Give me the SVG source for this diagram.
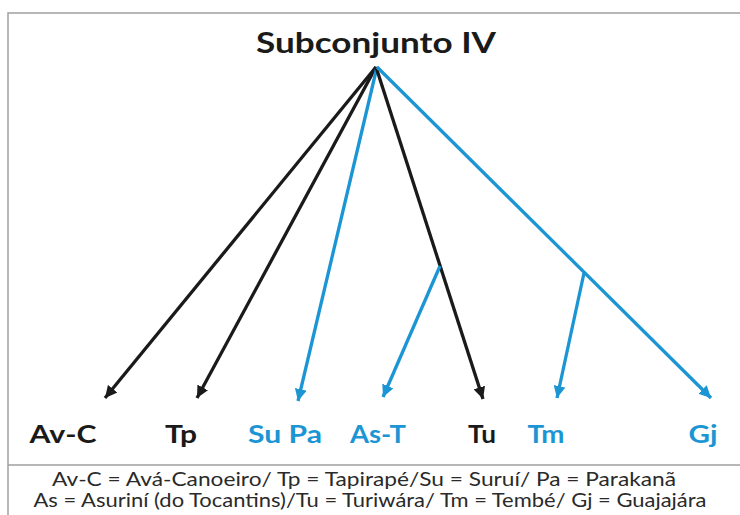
<svg xmlns="http://www.w3.org/2000/svg" width="740" height="515" viewBox="0 0 740 515">
<style>
.bk{stroke:#1a1a1a;stroke-width:3.3;fill:none}
.bl{stroke:#1b95d3;stroke-width:3.3;fill:none}
.lab{font-family:"Lato","Open Sans",sans-serif;font-weight:bold;font-size:25px;text-anchor:middle}
.kb{fill:#1a1a1a}
.kl{fill:#1b95d3}
.leg{font-family:"Lato","Open Sans",sans-serif;font-size:19px;fill:#2a2a2a;text-anchor:middle}
.frame{stroke:#a0a0a0;stroke-width:1.5;fill:none}
</style>
<defs>
<marker id="ab" markerUnits="userSpaceOnUse" markerWidth="14" markerHeight="12" refX="12" refY="6" orient="auto" viewBox="0 0 14 12"><path d="M0,0 L12,6 L0,12 z" fill="#1a1a1a"/></marker>
<marker id="al" markerUnits="userSpaceOnUse" markerWidth="14" markerHeight="12" refX="12" refY="6" orient="auto" viewBox="0 0 14 12"><path d="M0,0 L12,6 L0,12 z" fill="#1b95d3"/></marker>
</defs>
<rect width="740" height="515" fill="#fff"/>
<path class="frame" d="M740,13 H8 V515 M8,465 H740"/>
<g id="root"><text x="376" y="53" class="lab kb" style="font-size:28px" textLength="240" lengthAdjust="spacingAndGlyphs">Subconjunto IV</text></g>
<g id="connectors">
<line class="bk" x1="376" y1="67" x2="105" y2="398" marker-end="url(#ab)"/>
<line class="bk" x1="376" y1="67" x2="197" y2="398" marker-end="url(#ab)"/>
<line class="bl" x1="377" y1="67" x2="298" y2="401" marker-end="url(#al)"/>
<line class="bk" x1="376" y1="67" x2="483" y2="399" marker-end="url(#ab)"/>
<line class="bl" x1="440" y1="266" x2="383" y2="397" marker-end="url(#al)"/>
<line class="bl" x1="377" y1="67" x2="711" y2="398" marker-end="url(#al)"/>
<line class="bl" x1="584" y1="273" x2="557" y2="398" marker-end="url(#al)"/>
</g>
<g id="n-avc"><text x="63" y="443" class="lab kb" textLength="67" lengthAdjust="spacingAndGlyphs">Av-C</text></g>
<g id="n-tp"><text x="181" y="443" class="lab kb" textLength="32" lengthAdjust="spacingAndGlyphs">Tp</text></g>
<g id="n-supa"><text x="285" y="443" class="lab kl" textLength="74" lengthAdjust="spacingAndGlyphs">Su Pa</text></g>
<g id="n-ast"><text x="378" y="443" class="lab kl" textLength="56" lengthAdjust="spacingAndGlyphs">As-T</text></g>
<g id="n-tu"><text x="482" y="443" class="lab kb" textLength="28" lengthAdjust="spacingAndGlyphs">Tu</text></g>
<g id="n-tm"><text x="546" y="443" class="lab kl" textLength="37" lengthAdjust="spacingAndGlyphs">Tm</text></g>
<g id="n-gj"><text x="703" y="443" class="lab kl" textLength="29" lengthAdjust="spacingAndGlyphs">Gj</text></g>
<g id="legend">
<text x="364" y="486" class="leg" textLength="624" lengthAdjust="spacingAndGlyphs">Av-C = Avá-Canoeiro/ Tp = Tapirapé/Su = Suruí/ Pa = Parakanã</text>
<text x="370" y="507" class="leg" textLength="673" lengthAdjust="spacingAndGlyphs">As = Asuriní (do Tocantins)/Tu = Turiwára/ Tm = Tembé/ Gj = Guajajára</text>
</g>
</svg>
